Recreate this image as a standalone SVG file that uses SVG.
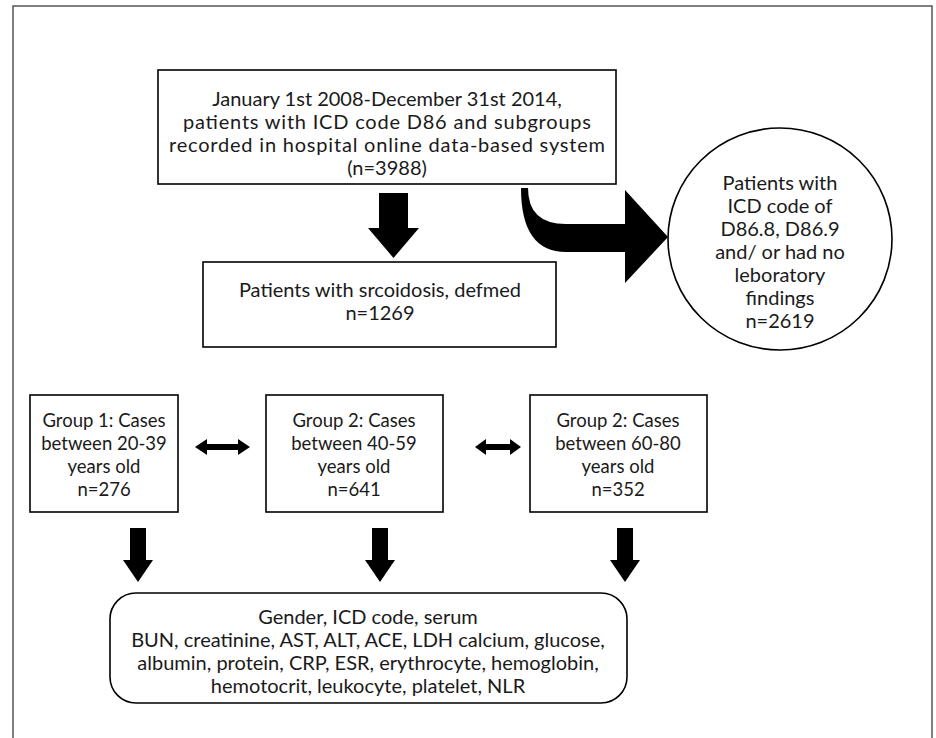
<svg xmlns="http://www.w3.org/2000/svg" width="936" height="738" viewBox="0 0 936 738">
<style>
.box{fill:#fff;stroke:#000;stroke-width:1.6}
.t{font-family:Lato,"Liberation Sans",sans-serif;font-size:20px;fill:#1a1a1a;text-anchor:middle}
.g{font-size:18.5px}
.arr{fill:#000;stroke:none}
</style>
<rect width="936" height="738" fill="#fff"/>
<path d="M13,738 V6 H932 V738" fill="none" stroke="#555" stroke-width="1.5"/>

<g id="n_top">
<rect class="box" x="158" y="70" width="458" height="114"/>
<text class="t" x="387" y="106">January 1st 2008-December 31st 2014,</text>
<text class="t" x="387" y="129" textLength="408" lengthAdjust="spacing">patients with ICD code D86 and subgroups</text>
<text class="t" x="387" y="152" textLength="436" lengthAdjust="spacing">recorded in hospital online data-based system</text>
<text class="t" x="387" y="175">(n=3988)</text>
</g>

<g id="n_excluded">
<ellipse class="box" cx="780" cy="239" rx="112" ry="111"/>
<text class="t" x="780" y="190">Patients with</text>
<text class="t" x="780" y="213">ICD code of</text>
<text class="t" x="780" y="236">D86.8, D86.9</text>
<text class="t" x="780" y="259">and/ or had no</text>
<text class="t" x="780" y="282">leboratory</text>
<text class="t" x="780" y="305">findings</text>
<text class="t" x="780" y="328">n=2619</text>
</g>

<g id="n_defined">
<rect class="box" x="203" y="262" width="353" height="85"/>
<text class="t" x="380" y="297">Patients with srcoidosis, defmed</text>
<text class="t" x="380" y="320">n=1269</text>
</g>

<g id="n_g1">
<rect class="box" x="30" y="395" width="148" height="117"/>
<text class="t g" x="104" y="427">Group 1: Cases</text>
<text class="t g" x="104" y="450">between 20-39</text>
<text class="t g" x="104" y="473">years old</text>
<text class="t g" x="104" y="496">n=276</text>
</g>

<g id="n_g2">
<rect class="box" x="266" y="395" width="177" height="117"/>
<text class="t g" x="354" y="427">Group 2: Cases</text>
<text class="t g" x="354" y="450">between 40-59</text>
<text class="t g" x="354" y="473">years old</text>
<text class="t g" x="354" y="496">n=641</text>
</g>

<g id="n_g3">
<rect class="box" x="530" y="395" width="177" height="117"/>
<text class="t g" x="618" y="427">Group 2: Cases</text>
<text class="t g" x="618" y="450">between 60-80</text>
<text class="t g" x="618" y="473">years old</text>
<text class="t g" x="618" y="496">n=352</text>
</g>

<g id="n_vars">
<rect class="box" x="110" y="593" width="517" height="110" rx="26" ry="26"/>
<text class="t" x="368" y="624">Gender, ICD code, serum</text>
<text class="t" x="368" y="647">BUN, creatinine, AST, ALT, ACE, LDH calcium, glucose,</text>
<text class="t" x="368" y="670">albumin, protein, CRP, ESR, erythrocyte, hemoglobin,</text>
<text class="t" x="368" y="693">hemotocrit, leukocyte, platelet, NLR</text>
</g>

<g id="connectors">
<polygon class="arr" points="379,193 408,193 408,228 419,228 393.5,258 368,228 379,228"/>
<path class="arr" d="M521,188 L528,188 Q528,224 566,224 L625,224 L625,190 L668,237 L625,283 L625,252 L566,252 Q521,252 521,188 Z"/>
<polygon class="arr" points="195,447 207,439 207,444 238,444 238,439 250,447 238,455 238,450 207,450 207,455"/>
<polygon class="arr" points="475,447 486,439 486,444 510,444 510,439 521,447 510,455 510,450 486,450 486,455"/>
<polygon class="arr" points="130,528 146,528 146,560 153,560 138,582 123,560 130,560"/>
<polygon class="arr" points="372,528 388,528 388,560 395,560 380,582 365,560 372,560"/>
<polygon class="arr" points="617,528 633,528 633,560 640,560 625,582 610,560 617,560"/>
</g>
</svg>
